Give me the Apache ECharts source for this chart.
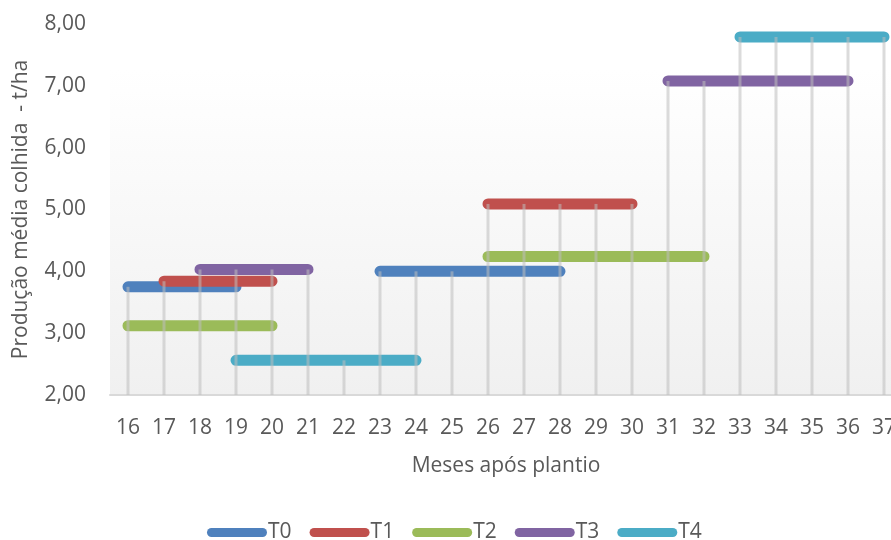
<!DOCTYPE html>
<html>
<head>
<meta charset="utf-8">
<script src="https://cdn.jsdelivr.net/npm/echarts@6/dist/echarts.min.js"></script>
<style>html,body{margin:0;padding:0;background:#fff}#c{width:891px;height:540px}</style>
</head>
<body>
<div id="c"></div>
<script>
const months = ['16','17','18','19','20','21','22','23','24','25','26','27','28','29','30','31','32','33','34','35','36','37'];
const T0 = [3.75,3.75,3.75,3.75,null,null,null,4.00,4.00,4.00,4.00,4.00,4.00,null,null,null,null,null,null,null,null,null];
const T1 = [null,3.84,3.84,3.84,3.84,null,null,null,null,null,5.09,5.09,5.09,5.09,5.09,null,null,null,null,null,null,null];
const T2 = [3.12,3.12,3.12,3.12,3.12,null,null,null,null,null,4.24,4.24,4.24,4.24,4.24,4.24,4.24,null,null,null,null,null];
const T3 = [null,null,4.03,4.03,4.03,4.03,null,null,null,null,null,null,null,null,null,7.08,7.08,7.08,7.08,7.08,7.08,null];
const T4 = [null,null,null,2.56,2.56,2.56,2.56,2.56,2.56,null,null,null,null,null,null,null,null,7.79,7.79,7.79,7.79,7.79];
const seriesNames = ['T0','T1','T2','T3','T4'];
const colors = ['#4f81bd','#c0504d','#9bbb59','#8064a2','#4bacc6'];
const yTicks = [2,3,4,5,6,7,8];

const all = [T0,T1,T2,T3,T4];
const dropHeights = months.map((m,i)=>{
  const vals = all.map(s=>s[i]).filter(v=>v!=null);
  return vals.length ? Math.max(...vals) : null;
});

const font = '"Open Sans", sans-serif';
const txt = '#595959';
const fs = 21;

const lineSeries = all.map((d,k)=>({
  name: seriesNames[k],
  type: 'line',
  data: d,
  showSymbol: false,
  symbol: 'none',
  connectNulls: false,
  z: 2,
  color: colors[k],
  lineStyle: {width: 11, cap: 'round', join: 'round', color: colors[k]},
  emphasis: {disabled: true},
  animation: false
}));

const chart = echarts.init(document.getElementById('c'), null, {renderer:'canvas'});
chart.setOption({
  animation: false,
  backgroundColor: '#ffffff',
  grid: {
    left: 110, width: 792, top: 24, bottom: 145,
    containLabel: false,
    outerBoundsMode: 'none',
    show: true, borderWidth: 0,
    backgroundColor: new echarts.graphic.LinearGradient(0,0,0,1,[
      {offset:0, color:'#ffffff'},
      {offset:0.12, color:'#ffffff'},
      {offset:1, color:'#f0f0f0'}
    ])
  },
  legend: {
    data: seriesNames,
    top: 517,
    left: 202,
    icon: 'path://M4.5,0 L55.5,0 A4.5,4.5 0 0 1 55.5,9 L4.5,9 A4.5,4.5 0 0 1 4.5,0 Z',
    itemWidth: 60,
    itemHeight: 9,
    itemGap: 18,
    textStyle: {fontFamily: font, fontSize: fs, color: txt, padding: [0,0,0,-4]}
  },
  xAxis: {
    type: 'category',
    data: months,
    boundaryGap: true,
    name: 'Meses após plantio',
    nameLocation: 'middle',
    nameGap: 61,
    nameTextStyle: {fontFamily: font, fontSize: fs, color: txt},
    axisLine: {lineStyle: {color: '#d9d9d9', width: 2}},
    axisTick: {show: false},
    axisLabel: {interval: 0, margin: 23, fontFamily: font, fontSize: fs, color: txt},
    splitLine: {show: false}
  },
  yAxis: {
    type: 'value',
    min: 2, max: 8, interval: 1,
    name: 'Produção média colhida  - t/ha',
    nameLocation: 'middle',
    nameGap: 78,
    nameTextStyle: {fontFamily: font, fontSize: fs, color: txt},
    axisLine: {show: false},
    axisTick: {show: false},
    splitLine: {show: false},
    axisLabel: {margin: 24, fontFamily: font, fontSize: fs, color: txt,
      formatter: v => yTicks.includes(v) ? v.toFixed(2).replace('.', ',') : ''}
  },
  series: lineSeries.concat([{
    name: 'drop',
    type: 'bar',
    data: dropHeights,
    barWidth: 3,
    z: 3,
    itemStyle: {color: 'rgba(190,190,190,0.55)'},
    emphasis: {disabled: true},
    silent: true,
    animation: false
  }])
});
</script>
</body>
</html>
